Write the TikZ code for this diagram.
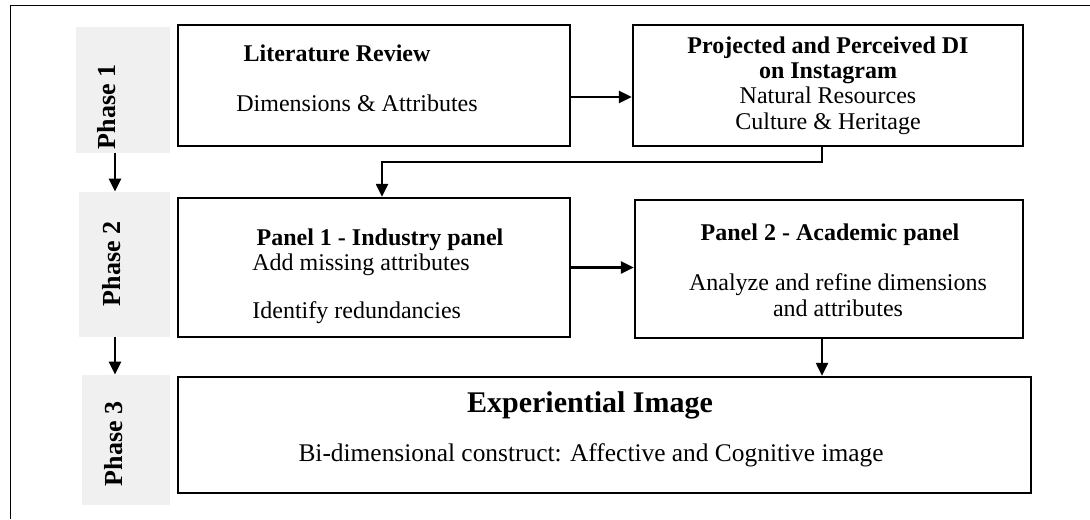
\documentclass[tikz,border=0pt]{standalone}
\usepackage{fontspec}
\setmainfont{Liberation Serif}
\usetikzlibrary{positioning, arrows.meta, calc}

\begin{document}
\begin{tikzpicture}[x=0.5pt, y=-0.5pt,
      box/.style={rectangle, draw, line width=1.2pt, inner sep=0pt},
      phasebox/.style={rectangle, fill=black!6, inner sep=0pt},
      phaselabel/.style={rotate=90, font=\bfseries\fontsize{13}{14}\selectfont, inner sep=0pt},
      title/.style={font=\bfseries\fontsize{12}{12.7}\selectfont, inner sep=0pt},
      body/.style={font=\fontsize{12}{12.7}\selectfont, inner sep=0pt, align=center},
      flow/.style={-{Triangle[length=6.5pt, width=6pt]}, line width=1.2pt}
    ]
      \useasboundingbox (0,0) rectangle (1090,519);
      \draw[line width=0.5pt] (10,519) -- (10,6) -- (1090,6);

      % phases
      \node[phasebox, minimum width=47pt, minimum height=63pt] (ph1) at (123,90) {};
      \node[phasebox, minimum width=45.5pt, minimum height=72.5pt] (ph2) at (124.5,264.5) {};
      \node[phasebox, minimum width=44pt, minimum height=65pt] (ph3) at (126,440) {};
      \node[phaselabel] (ph1lbl) at (107,107) {Phase 1};
      \node[phaselabel] (ph2lbl) at (112,264) {Phase 2};
      \node[phaselabel] (ph3lbl) at (114,444) {Phase 3};
      \coordinate (phx) at (115,0);
      \draw[flow] (phx |- ph1.south) -- (phx |- ph2.north);
      \draw[flow] (phx |- ph2.south) -- (phx |- ph3.north);

      % boxes
      \node[box, minimum width=196pt, minimum height=60.5pt] (lit) at (374,85.5) {};
      \node[box, minimum width=195pt, minimum height=60.5pt, align=center,
            font=\fontsize{12}{12.7}\selectfont] (proj) at (828,85.5)
        {\textbf{Projected and Perceived DI}\\\textbf{on Instagram}\\Natural Resources\\Culture \& Heritage};
      \node[box, minimum width=196pt, minimum height=69.5pt] (p1) at (374,267.5) {};
      \node[box, minimum width=194pt, minimum height=69pt] (p2) at (829,269) {};
      \node[box, minimum width=426.5pt, minimum height=58pt] (exp) at (604.5,435) {};

      % texts
      \node[title] (littitle) at (337,53) {Literature Review};
      \node[body] (litbody) at (357,103) {Dimensions \& Attributes};
      \node[title] (p1title) at (380,240) {Panel 1 - Industry panel};
      \node[body, anchor=west] (p1add) at (252,265) {Add missing attributes};
      \node[body, anchor=west] (p1red) at (252,313) {Identify redundancies};
      \node[title] (p2title) at (830,235) {Panel 2 - Academic panel};
      \node[body] (p2body) at (838,295) {Analyze and refine dimensions\\and attributes};
      \node[title, font=\bfseries\fontsize{15}{16}\selectfont] (exptitle) at (590,405) {Experiential Image};
      \node[body, font=\fontsize{12.7}{13.5}\selectfont] (expbody) at (591,455) {Bi-dimensional construct: Affective and Cognitive image};

      % connectors
      \draw[flow] ([yshift=-5.75pt]lit.east) -- ([yshift=-5.75pt]lit.east -| proj.west);
      \coordinate (bend) at (382,162);
      \draw[flow] ([xshift=-3pt]proj.south) |- (bend) -- (bend |- p1.north);
      \draw[flow] (p1.east) -- (p1.east -| p2.west);
      \draw[flow] ([xshift=-3.5pt]p2.south) -- ([xshift=-3.5pt]p2.south |- exp.north);
    \end{tikzpicture}
\end{document}
